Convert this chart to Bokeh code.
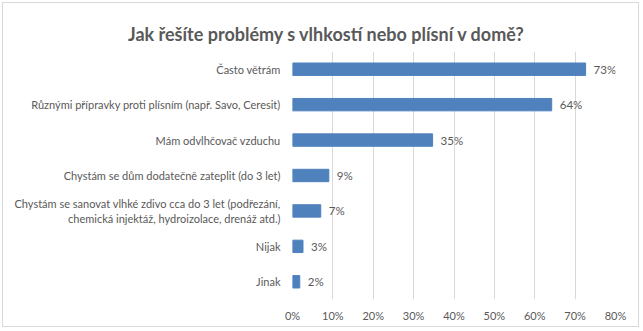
from bokeh.plotting import figure
from bokeh.models import ColumnDataSource, FixedTicker, Range1d
from bokeh.core.properties import value
from bokeh.embed import file_html
from bokeh.resources import INLINE

title_text = "Jak řešíte problémy s vlhkostí nebo plísní v domě?"
categories = [
    "Často větrám",
    "Různými přípravky proti plísním (např. Savo, Ceresit)",
    "Mám odvlhčovač vzduchu",
    "Chystám se dům dodatečně zateplit (do 3 let)",
    "Chystám se sanovat vlhké zdivo cca do 3 let (podřezání,\nchemická injektáž, hydroizolace, drenáž atd.)",
    "Nijak",
    "Jinak",
]
values = [72.6, 64.2, 34.7, 9.0, 7.0, 2.6, 1.8]
x_ticks = [0, 10, 20, 30, 40, 50, 60, 70, 80]

FONT = "Lato"
GREY = "#595959"
FS = "11px"

W, H = 637, 325
BL, BR, BT, BB = 289, 25, 48, 29

n = len(categories)
ypos = [n - 1 - i for i in range(n)]  # first category at the top

src = ColumnDataSource(dict(
    y=ypos,
    val=values,
    lbl=[f"{round(v)}%" for v in values],
))

p = figure(
    width=W, height=H,
    y_range=Range1d(-0.5, n - 0.5),
    x_range=Range1d(0, 80),
    output_backend="svg", toolbar_location=None,
    min_border_left=BL, min_border_right=BR, min_border_top=BT, min_border_bottom=BB,
    title=title_text,
)
p.styles = {"margin": "2px", "border": "1px solid #d9d9d9"}

p.hbar(y="y", right="val", height=0.35, source=src, color="#4f81bd")
p.text(x="val", y="y", text="lbl", source=src, x_offset=8,
       text_baseline="middle", text_align="left",
       text_font=value(FONT), text_font_size="11.5px", text_color=GREY)

p.title.align = "left"
p.title.vertical_align = "top"
p.title.offset = -164.5
p.title.standoff = 10
p.title.text_font = FONT
p.title.text_font_size = "18px"
p.title.text_font_style = "bold"
p.title.text_color = GREY

p.outline_line_color = None
p.ygrid.grid_line_color = None
p.xgrid.grid_line_color = "#d9d9d9"
p.xgrid.ticker = FixedTicker(ticks=x_ticks)

p.xaxis.ticker = FixedTicker(ticks=x_ticks)
p.xaxis.major_label_overrides = {t: f"{t}%" for t in x_ticks}
p.xaxis.axis_line_color = None
p.xaxis.major_tick_line_color = None
p.xaxis.minor_tick_line_color = None
p.xaxis.major_tick_out = 0
p.xaxis.major_label_standoff = 9
p.xaxis.major_label_text_font = FONT
p.xaxis.major_label_text_font_size = FS
p.xaxis.major_label_text_color = GREY

p.yaxis.ticker = FixedTicker(ticks=ypos)
p.yaxis.major_label_overrides = {y: c for y, c in zip(ypos, categories)}
p.yaxis.axis_line_color = None
p.yaxis.major_tick_line_color = None
p.yaxis.minor_tick_line_color = None
p.yaxis.major_tick_out = 0
p.yaxis.major_label_standoff = 12
p.yaxis.major_label_text_font = FONT
p.yaxis.major_label_text_font_size = FS
p.yaxis.major_label_text_color = GREY

p.background_fill_color = "white"
p.border_fill_color = "white"

open("out.html", "w").write(file_html(p, INLINE))
